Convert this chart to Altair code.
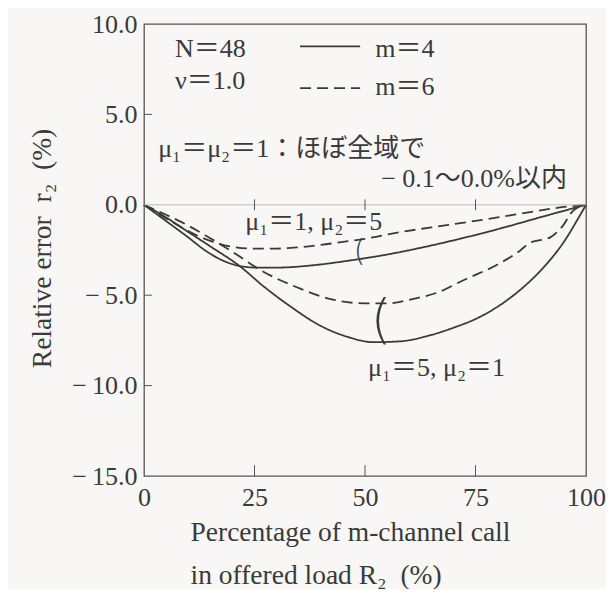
import altair as alt
import pandas as pd

# ---- data ----
# m=4 (solid), mu1=1, mu2=5
x_m4_a = [0, 5, 10, 14, 18, 22, 26, 31, 38, 46, 55, 65, 72, 80, 91, 100]
y_m4_a = [0, -0.9, -1.8, -2.55, -3.1, -3.4, -3.48, -3.47, -3.35, -3.1, -2.75, -2.25, -1.85, -1.35, -0.6, 0]
# m=4 (solid), mu1=5, mu2=1
x_m4_b = [0, 5, 10, 15, 21.7, 27, 33, 40, 46, 52, 58, 65, 70, 76, 82, 87, 91, 95, 98, 100]
y_m4_b = [0, -0.7, -1.5, -2.3, -3.4, -4.5, -5.6, -6.7, -7.3, -7.6, -7.55, -7.2, -6.8, -6.2, -5.3, -4.3, -3.3, -2.05, -0.85, 0]
# m=6 (dashed), mu1=1, mu2=5
x_m6_a = [0, 5, 10, 15, 20, 25, 30, 35, 40, 45, 50, 57, 65, 72, 80, 87, 95, 100]
y_m6_a = [0, -0.75, -1.45, -2.0, -2.32, -2.42, -2.42, -2.35, -2.22, -2.05, -1.88, -1.55, -1.25, -1.0, -0.7, -0.42, -0.12, 0]
# m=6 (dashed), mu1=5, mu2=1
x_m6_b = [0, 5, 10, 15, 20, 27, 35, 42, 50, 55, 61, 67, 72, 80, 85, 87.3, 91.9, 94.8, 97, 100]
y_m6_b = [0, -0.55, -1.15, -1.85, -2.6, -3.7, -4.6, -5.2, -5.45, -5.45, -5.2, -4.8, -4.2, -3.3, -2.55, -2.1, -1.8, -1.15, -0.35, 0]

x_ticks = [0, 25, 50, 75, 100]
y_ticks = [-15, -10, -5, 0, 5, 10]
inner_x_ticks = [25, 50, 75]
inner_y_ticks = [-10, -5, 5]

rows = []
for name, m, xs, ys in [("a4", "4", x_m4_a, y_m4_a), ("b4", "4", x_m4_b, y_m4_b),
                        ("a6", "6", x_m6_a, y_m6_a), ("b6", "6", x_m6_b, y_m6_b)]:
    rows += [{"series": name, "m": m, "x": x, "y": y} for x, y in zip(xs, ys)]
df = pd.DataFrame(rows)

FONT = "Liberation Serif, Noto Sans CJK JP, serif"
INK = "#3a3a3a"
FS = 26

xsc = alt.Scale(domain=[0, 100], nice=False, zero=False)
ysc = alt.Scale(domain=[-15, 10], nice=False, zero=False)

MINUS = "\u2212\u2009"
y_label_expr = ("datum.value < 0 ? '" + MINUS + "' + format(-datum.value, '.1f') : format(datum.value, '.1f')")

EN = "\u2002"
X_TITLE = ["Percentage of m-channel call", "in offered load R\u2082" + EN + "(%)"]
Y_TITLE = "Relative error" + EN + "r\u2082" + EN + "(%)"
X_AX = alt.Axis(values=x_ticks, format="d", labelFlush=False, labelPadding=8,
                titleX=46, titleY=64, titleAlign="left", titleBaseline="alphabetic",
                titleLineHeight=43, titleFontSize=27.5, domain=False, ticks=False, grid=False)
Y_AX = alt.Axis(values=y_ticks, labelExpr=y_label_expr, labelFlush=False, labelPadding=7,
                titleX=-94, titleY=224, titleAlign="center", titleBaseline="alphabetic",
                titleAngle=270, titleFontSize=27.5, domain=False, ticks=False, grid=False)


def X(field):
    return alt.X(field, scale=xsc, axis=X_AX, title=X_TITLE)


def Y(field):
    return alt.Y(field, scale=ysc, axis=Y_AX, title=Y_TITLE)


DASH = alt.Scale(domain=["4", "6"], range=[[1, 0], [11, 6]])

lines = alt.Chart(df).mark_line(interpolate="monotone", strokeWidth=1.8, color=INK).encode(
    x=X("x:Q"), y=Y("y:Q"),
    detail="series:N",
    strokeDash=alt.StrokeDash("m:N", scale=DASH, legend=None),
)

zero_line = alt.Chart(pd.DataFrame({"y": [0]})).mark_rule(color="#bdbdbd", strokeWidth=1).encode(
    y=Y("y:Q"))

tick_df = pd.DataFrame({"x": inner_x_ticks, "lo": [-15] * 3, "hi": [-14.4] * 3,
                        "zlo": [-0.3] * 3, "zhi": [0.3] * 3})
bottom_ticks = alt.Chart(tick_df).mark_rule(color="#555", strokeWidth=1).encode(
    x=X("x:Q"), y=Y("lo:Q"), y2="hi:Q")
zero_ticks = alt.Chart(tick_df).mark_rule(color="#555", strokeWidth=1).encode(
    x=X("x:Q"), y=Y("zlo:Q"), y2="zhi:Q")
ltick_df = pd.DataFrame({"y": inner_y_ticks, "lo": [0] * 3, "hi": [1.8] * 3})
left_ticks = alt.Chart(ltick_df).mark_rule(color="#555", strokeWidth=1).encode(
    y=Y("y:Q"), x=X("lo:Q"), x2="hi:Q")

# legend samples
leg_df = pd.DataFrame({"m": ["4", "6"], "x0": [35.3, 35.3], "x1": [48.9, 48.9], "y": [8.76, 6.45]})
legend_lines = alt.Chart(leg_df).mark_rule(color=INK, strokeWidth=1.8).encode(
    x=X("x0:Q"), x2="x1:Q", y=Y("y:Q"),
    strokeDash=alt.StrokeDash("m:N", scale=DASH, legend=None),
)

ann_text = ["N\uff1d48", "\u03bd\uff1d1.0", "m\uff1d4", "m\uff1d6",
            "\u03bc\u2081\uff1d\u03bc\u2082\uff1d1\uff1a\u307b\u307c\u5168\u57df\u3067",
            "\u03bc\u2081\uff1d1, \u03bc\u2082\uff1d5", "\u03bc\u2081\uff1d5, \u03bc\u2082\uff1d1"]
ann_x = [7.0, 7.0, 52.3, 52.3, 3.2, 22.9, 50.7]
ann_y = [8.19, 6.42, 8.19, 6.08, 2.65, -1.38, -9.46]
ann = alt.Chart(pd.DataFrame({"t": ann_text, "x": ann_x, "y": ann_y})).mark_text(
    align="left", baseline="alphabetic", font=FONT, fontSize=FS, color=INK).encode(
    x=X("x:Q"), y=Y("y:Q"), text="t:N")

ann_r = alt.Chart(pd.DataFrame({"t": ["\u2212 0.1\u301c0.0%\u4ee5\u5185"], "x": [95.7], "y": [1.0]})).mark_text(
    align="right", baseline="alphabetic", font=FONT, fontSize=FS, color=INK).encode(
    x=X("x:Q"), y=Y("y:Q"), text="t:N")

br1 = alt.Chart(pd.DataFrame({"t": ["("], "x": [48.8], "y": [-2.6]})).mark_text(
    align="center", baseline="middle", font="DejaVu Sans", fontWeight=200, fontSize=30, color=INK).encode(
    x=X("x:Q"), y=Y("y:Q"), text="t:N")
br2 = alt.Chart(pd.DataFrame({"t": ["("], "x": [53.6], "y": [-6.5]})).mark_text(
    align="center", baseline="middle", font="DejaVu Sans", fontWeight=200, fontSize=54, color=INK).encode(
    x=X("x:Q"), y=Y("y:Q"), text="t:N")

chart = alt.layer(lines, zero_line, bottom_ticks, zero_ticks, left_ticks, legend_lines,
                  ann, ann_r, br1, br2).properties(
    width=442, height=452,
    padding={"left": 136, "top": 16, "right": 20, "bottom": 113},
    autosize=alt.AutoSizeParams(type="none"),
    background="#f8f7f5",
).configure_view(stroke="#555", strokeWidth=1.3).configure_axis(
    labelFont=FONT, labelFontSize=FS, labelColor=INK,
    titleFont=FONT, titleFontSize=FS, titleColor=INK, titleFontWeight="normal",
)

chart.save("out.html", embed_options={"renderer": "svg", "actions": False})
